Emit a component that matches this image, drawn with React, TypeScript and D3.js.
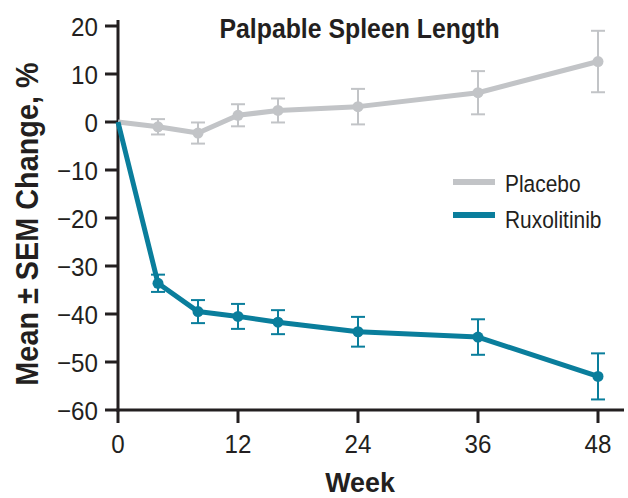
import React from "react";
import * as d3 from "d3";

const weeks = [0, 4, 8, 12, 16, 24, 36, 48];
const placeboMean = [0, -1.0, -2.3, 1.4, 2.4, 3.2, 6.1, 12.6];
const placeboSem = [0, 1.6, 2.2, 2.3, 2.5, 3.7, 4.5, 6.4];
const ruxMean = [0, -33.6, -39.5, -40.5, -41.7, -43.7, -44.8, -53.0];
const ruxSem = [0, 1.8, 2.4, 2.6, 2.5, 3.1, 3.7, 4.8];
const xTicks = [0, 12, 24, 36, 48];
const yTicks = [20, 10, 0, -10, -20, -30, -40, -50, -60];
const seriesNames = ["Placebo", "Ruxolitinib"];

const W = 628;
const H = 498;
const GRAY = "#c2c4c7";
const TEAL = "#0a7e9c";
const AX = "#231f20";
const FONT = "'Liberation Sans', Arial, Helvetica, sans-serif";

const x = d3.scaleLinear().domain([0, 48]).range([118, 598]);
const y = d3.scaleLinear().domain([-60, 20]).range([410, 26]);

function T(props: {
  x: number; y: number; sx?: number; size: number; bold?: boolean;
  anchor?: string; rotate?: number; fill?: string; children: React.ReactNode;
}) {
  const { sx = 1, size, bold, anchor = "start", rotate = 0, fill = AX } = props;
  return (
    <text
      transform={`translate(${props.x},${props.y}) rotate(${rotate}) scale(${sx},1)`}
      fontFamily={FONT}
      fontSize={size}
      fontWeight={bold ? 700 : 400}
      textAnchor={anchor}
      fill={fill}
    >
      {props.children}
    </text>
  );
}

function Series({ mean, sem, color }: { mean: number[]; sem: number[]; color: string }) {
  const line = d3
    .line<number>()
    .x((_, i) => x(weeks[i]))
    .y((d) => y(d));
  return (
    <g>
      <path d={line(mean) || ""} fill="none" stroke={color} strokeWidth={5} strokeLinejoin="round" />
      {mean.map((m, i) => {
        if (sem[i] === 0) return null;
        const cx = x(weeks[i]);
        const y1 = y(m + sem[i]);
        const y2 = y(m - sem[i]);
        return (
          <g key={i} stroke={color} strokeWidth={2}>
            <line x1={cx} x2={cx} y1={y1} y2={y2} />
            <line x1={cx - 7} x2={cx + 7} y1={y1} y2={y1} />
            <line x1={cx - 7} x2={cx + 7} y1={y2} y2={y2} />
          </g>
        );
      })}
      {mean.map((m, i) =>
        i === 0 ? null : <circle key={i} cx={x(weeks[i])} cy={y(m)} r={5.5} fill={color} />
      )}
    </g>
  );
}

export default function App() {
  return (
    <svg
      width={W}
      height={H}
      viewBox={`0 0 ${W} ${H}`}
      style={{ position: "absolute", left: 0, top: 0, background: "#fff" }}
    >
      {/* axes */}
      <line x1={118} x2={118} y1={20} y2={411.5} stroke={AX} strokeWidth={3} />
      <line x1={116.5} x2={624} y1={410} y2={410} stroke={AX} strokeWidth={3} />
      {yTicks.map((t) => (
        <g key={t}>
          <line x1={105} x2={118} y1={y(t)} y2={y(t)} stroke={AX} strokeWidth={3} />
          <T x={98} y={y(t) + 9.5} size={26} sx={0.93} anchor="end">
            {t < 0 ? `\u2212${Math.abs(t)}` : `${t}`}
          </T>
        </g>
      ))}
      {xTicks.map((t) => (
        <g key={t}>
          <line x1={x(t)} x2={x(t)} y1={410} y2={423} stroke={AX} strokeWidth={3} />
          <T x={x(t)} y={453} size={26} sx={0.93} anchor="middle">
            {t}
          </T>
        </g>
      ))}

      {/* series */}
      <Series mean={placeboMean} sem={placeboSem} color={GRAY} />
      <Series mean={ruxMean} sem={ruxSem} color={TEAL} />

      {/* title & labels */}
      <T x={359.5} y={38} size={27} sx={0.92} bold anchor="middle">
        Palpable Spleen Length
      </T>
      <T x={360} y={492} size={28} sx={0.96} bold anchor="middle">
        Week
      </T>
      <T x={38} y={224} size={31} sx={0.93} bold anchor="middle" rotate={-90}>
        Mean ± SEM Change, %
      </T>

      {/* legend */}
      <line x1={453} x2={495} y1={182} y2={182} stroke={GRAY} strokeWidth={6} />
      <line x1={453} x2={495} y1={215} y2={215} stroke={TEAL} strokeWidth={6} />
      <T x={505} y={192} size={23.5} sx={0.89}>
        {seriesNames[0]}
      </T>
      <T x={505} y={228} size={23.5} sx={0.89}>
        {seriesNames[1]}
      </T>
    </svg>
  );
}
